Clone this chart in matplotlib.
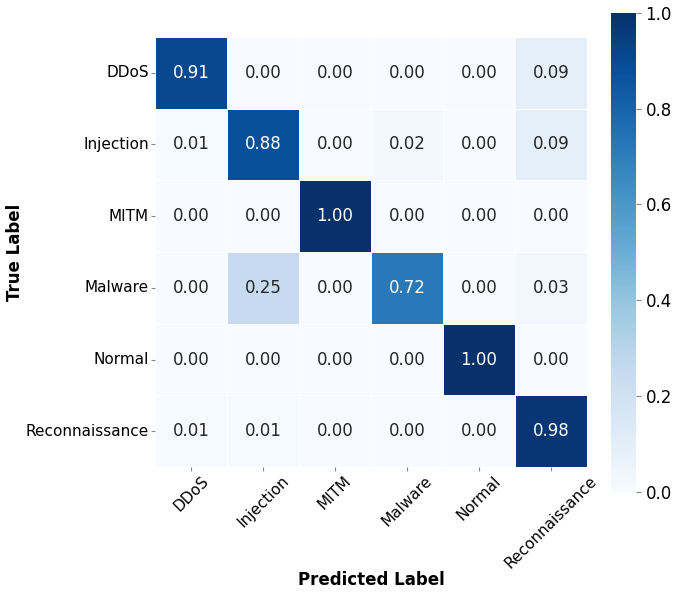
import matplotlib
matplotlib.use("Agg")
import matplotlib.pyplot as plt
import seaborn as sns
import numpy as np

labels = ["DDoS", "Injection", "MITM", "Malware", "Normal", "Reconnaissance"]
row_ddos = [0.91, 0.00, 0.00, 0.00, 0.00, 0.09]
row_injection = [0.01, 0.88, 0.00, 0.02, 0.00, 0.09]
row_mitm = [0.00, 0.00, 1.00, 0.00, 0.00, 0.00]
row_malware = [0.00, 0.25, 0.00, 0.72, 0.00, 0.03]
row_normal = [0.00, 0.00, 0.00, 0.00, 1.00, 0.00]
row_recon = [0.01, 0.01, 0.00, 0.00, 0.00, 0.98]


def main():
  cm = np.array([row_ddos, row_injection, row_mitm, row_malware, row_normal, row_recon])

  fig = plt.figure(figsize=(6.98, 6.05), dpi=100)
  ax = fig.add_axes([0.222, 0.228, 0.619, 0.711])
  cax = fig.add_axes([0.875, 0.187, 0.036, 0.792])

  sns.heatmap(cm, annot=True, fmt=".2f", cmap="Blues", vmin=0, vmax=1,
              linewidths=0.5, linecolor="white",
              xticklabels=labels, yticklabels=labels,
              annot_kws={"size": 12}, ax=ax, cbar_ax=cax)

  ax.set_xlabel("Predicted Label", fontsize=12, fontweight="bold")
  ax.set_ylabel("True Label", fontsize=12, fontweight="bold")
  ax.xaxis.set_label_coords(0.5, -0.263)
  ax.yaxis.set_label_coords(-0.324, 0.5)
  ax.xaxis.label.set_va("center")
  ax.yaxis.label.set_va("center")
  ax.tick_params(axis="both", labelsize=11, color="#888888", length=3, pad=1.5)
  plt.setp(ax.get_xticklabels(), rotation=45, ha="center")
  plt.setp(ax.get_yticklabels(), rotation=0)
  cax.tick_params(labelsize=12, color="#888888")

  fig.savefig("out.png", dpi=100)

if __name__ == "__main__":
  main()
